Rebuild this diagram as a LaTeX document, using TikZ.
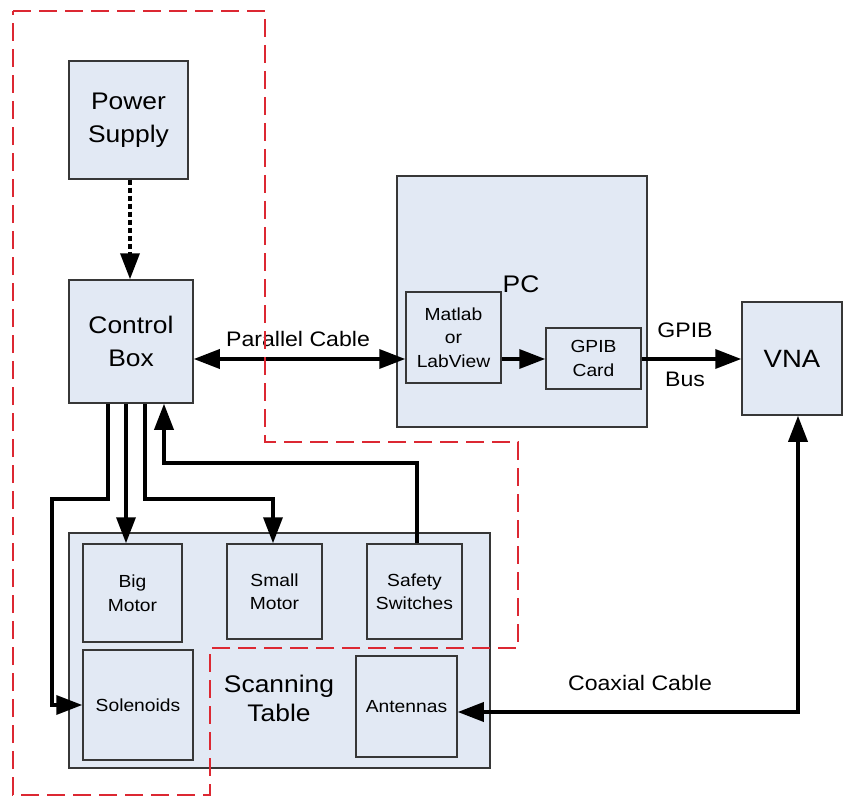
\documentclass[tikz,border=0pt]{standalone}
\usepackage{fontspec}
\setmainfont[FakeStretch=1.1]{Liberation Sans}
\usetikzlibrary{arrows.meta}
\definecolor{boxfill}{RGB}{226,233,244}
\definecolor{boxline}{RGB}{55,55,55}
\definecolor{zone}{RGB}{220,40,50}
\tikzset{
  blk/.style={draw=boxline, line width=1.5pt, fill=boxfill, inner sep=0pt, align=center},
  bigtxt/.style={font=\fontsize{24}{33}\selectfont},
  smalltxt/.style={font=\fontsize{17.5}{23.5}\selectfont},
  lbl/.style={font=\fontsize{21}{25}\selectfont, inner sep=0pt},
  conn/.style={line width=3.5pt, -{Triangle[length=26pt,width=19pt]}},
  dconn/.style={line width=3.5pt, {Triangle[length=26pt,width=19pt]}-{Triangle[length=26pt,width=19pt]}},
  zoneline/.style={draw=zone, line width=2.2pt, dash pattern=on 18pt off 8pt}
}
\begin{document}
\begin{tikzpicture}[x=1pt,y=-1pt]
\useasboundingbox (0,0) rectangle (844,797);
% boxes
\node[blk,bigtxt,minimum width=119pt,minimum height=118pt] (ps) at (128.5,120) {Power\\Supply};
\node[blk,bigtxt,minimum width=124pt,minimum height=123pt] (cb) at (131,341.5) {Control\\Box};
\node[blk,minimum width=250pt,minimum height=251pt] (pc) at (522,301.5) {};
\node[bigtxt,inner sep=0pt] (pclbl) at (521,284) {PC};
\node[blk,smalltxt,minimum width=95pt,minimum height=91pt] (ml) at (453.5,337.5) {Matlab\\or\\LabView};
\node[blk,smalltxt,minimum width=95pt,minimum height=61pt] (gc) at (593.5,358.5) {GPIB\\Card};
\node[blk,font=\fontsize{25}{30}\selectfont,minimum width=100pt,minimum height=113pt] (vna) at (792,358.5) {VNA};
\node[blk,minimum width=421pt,minimum height=235pt] (st) at (279.5,650.5) {};
\node[bigtxt,inner sep=0pt,align=center,font=\fontsize{24}{29}\selectfont] (stlbl) at (279,698) {Scanning\\Table};
\node[blk,smalltxt,minimum width=99pt,minimum height=98pt] (bm) at (132.5,593) {Big\\Motor};
\node[blk,smalltxt,minimum width=95pt,minimum height=95pt] (sm) at (274.5,591.5) {Small\\Motor};
\node[blk,smalltxt,minimum width=95pt,minimum height=95pt] (ss) at (414.5,591.5) {Safety\\Switches};
\node[blk,smalltxt,minimum width=110pt,minimum height=110pt] (so) at (138,705) {Solenoids};
\node[blk,smalltxt,minimum width=101pt,minimum height=101pt] (an) at (406.5,706.5) {Antennas};
% labels
\node[lbl] (pcl) at (298,339) {Parallel Cable};
\node[lbl] (gpl) at (685,330) {GPIB};
\node[lbl] (bsl) at (685,379) {Bus};
\node[lbl] (cxl) at (640,683) {Coaxial Cable};
% coordinates
\coordinate (a1) at (108,499);
\coordinate (a2) at (52,499);
\coordinate (a3) at (52,705);
\coordinate (b1) at (145,499);
\coordinate (b2) at (273,499);
\coordinate (c1) at (417,463);
\coordinate (c2) at (164,463);
\coordinate (d1) at (798,712);
% connectors
\draw[conn, dash pattern=on 5pt off 3pt] (ps.south -| 130,0) -- (cb.north -| 130,0);
\draw[dconn] (cb.east |- 0,359) -- (ml.west |- 0,359);
\draw[conn] (ml.east |- 0,359) -- (gc.west |- 0,359);
\draw[conn] (gc.east |- 0,359) -- (vna.west |- 0,359);
\draw[conn] (cb.south -| a1) -- (a1) -- (a2) -- (a3) -- (so.west |- a3);
\draw[conn] (cb.south -| 126,0) -- (bm.north -| 126,0);
\draw[conn] (cb.south -| b1) -- (b1) -- (b2) -- (sm.north -| b2);
\draw[conn] (ss.north -| c1) -- (c1) -- (c2) -- (cb.south -| c2);
\draw[dconn] (vna.south -| d1) -- (d1) -- (an.east |- d1);
% zone outline
\draw[zoneline] (13,11) -- (265,11) -- (265,442) -- (518,442) -- (518,648) -- (210,648) -- (210,795) -- (13,795) -- cycle;
\end{tikzpicture}
\end{document}
